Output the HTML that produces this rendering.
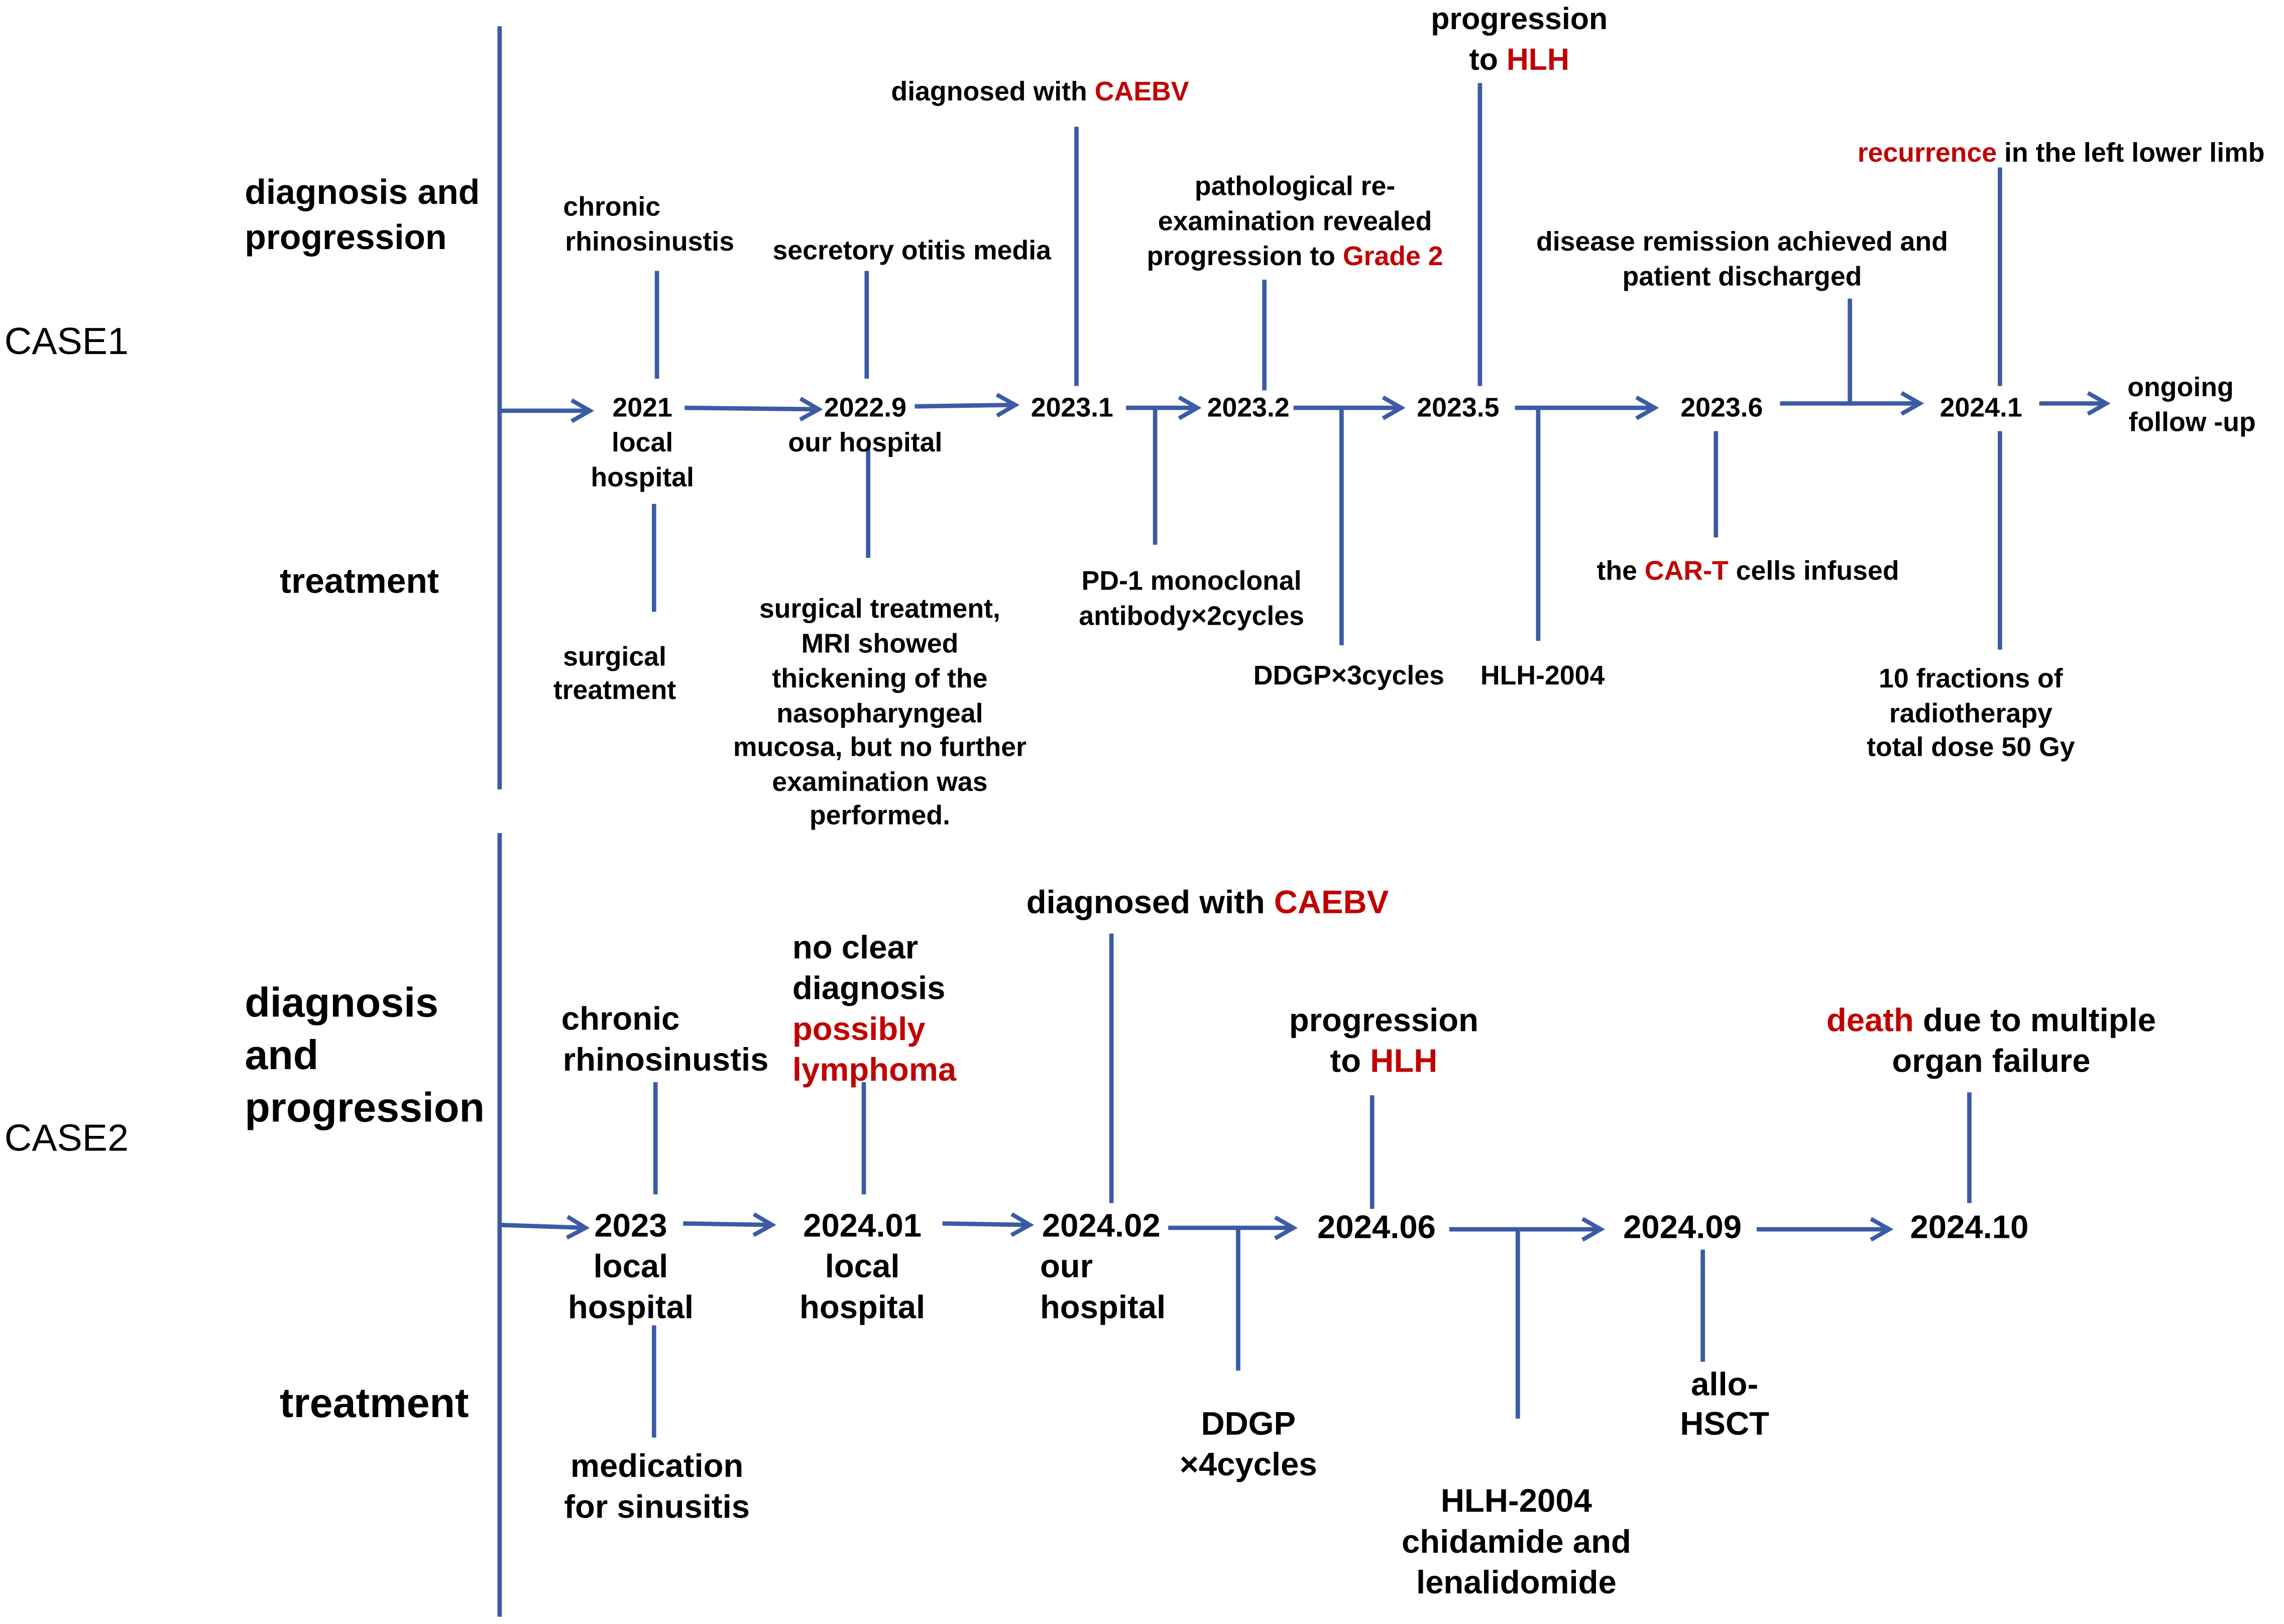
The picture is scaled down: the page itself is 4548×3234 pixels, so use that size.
<!DOCTYPE html>
<html><head><meta charset="utf-8"><style>
html,body{margin:0;padding:0;background:#fff}
svg{display:block}
text{font-family:"Liberation Sans",Arial,sans-serif;font-weight:bold;fill:#000}
.r{fill:#c00000}
.c1{font-size:18.5px;text-anchor:middle}
.c2{font-size:22.5px;text-anchor:middle}
.l{stroke:#3b5ba5;stroke-width:3;fill:none}
</style></head><body>
<svg width="4548" height="3234" viewBox="0 0 1568 1115" xmlns="http://www.w3.org/2000/svg">
<defs><marker id="a" viewBox="0 0 10 10" refX="8" refY="5" markerWidth="6" markerHeight="6" orient="auto" markerUnits="strokeWidth"><path d="M1,1 L8,5 L1,9" fill="none" stroke="#3b5ba5" stroke-width="1.6"/></marker></defs>
<g class="l">
<path d="M343 18V542M343 572V1110"/>
<path marker-end="url(#a)" d="M343 282L405 282"/>
<path marker-end="url(#a)" d="M470 280L562 281"/>
<path marker-end="url(#a)" d="M628 279L697 278"/>
<path marker-end="url(#a)" d="M773 280L822 280"/>
<path marker-end="url(#a)" d="M888 280L962 280"/>
<path marker-end="url(#a)" d="M1040 280L1136 280"/>
<path marker-end="url(#a)" d="M1222 277L1318 277"/>
<path marker-end="url(#a)" d="M1400 277L1446 277"/>
<path d="M451 186V260M595 186V260M739 87V265M868 192V268M1016 57V265M1270 205V277M1373 115V265"/>
<path d="M449 346V420M596 308V383M793 280V374M921 280V443M1056 280V440M1178 296V369M1373 296V446"/>
<path marker-end="url(#a)" d="M343 841L402 843"/>
<path marker-end="url(#a)" d="M469 840L530 841"/>
<path marker-end="url(#a)" d="M647 840L707 841"/>
<path marker-end="url(#a)" d="M802 843L888 843"/>
<path marker-end="url(#a)" d="M995 844L1099 844"/>
<path marker-end="url(#a)" d="M1206 844L1297 844"/>
<path d="M450 743V820M593 743V820M763 641V826M942 752V830M1352 750V826"/>
<path d="M449 910V987M850 843V941M1042 844V974M1169 858V935"/>
</g>
<text x="3" y="243" style="font-weight:normal;font-size:26px">CASE1</text>
<text x="3" y="790" style="font-weight:normal;font-size:26px">CASE2</text>
<text x="168" y="140" style="font-size:24px">diagnosis and</text>
<text x="168" y="171" style="font-size:24px">progression</text>
<text x="192" y="407" style="font-size:24px">treatment</text>
<text x="168" y="698" style="font-size:28.5px">diagnosis</text>
<text x="168" y="734" style="font-size:28.5px">and</text>
<text x="168" y="770" style="font-size:28.5px">progression</text>
<text x="192" y="973" style="font-size:28.5px">treatment</text>
<g class="c1">
<text x="441" y="286">2021</text><text x="441" y="310">local</text><text x="441" y="334">hospital</text>
<text x="594" y="286">2022.9</text><text x="594" y="310">our hospital</text>
<text x="736" y="286">2023.1</text><text x="857" y="286">2023.2</text><text x="1001" y="286">2023.5</text>
<text x="1182" y="286">2023.6</text><text x="1360" y="286">2024.1</text>
<text x="1497" y="272">ongoing</text><text x="1505" y="296">follow -up</text>
<text x="420" y="148">chronic</text><text x="446" y="172">rhinosinustis</text>
<text x="626" y="178">secretory otitis media</text>
<text x="714" y="69">diagnosed with <tspan class="r">CAEBV</tspan></text>
<text x="889" y="134">pathological re-</text><text x="889" y="158">examination revealed</text>
<text x="889" y="182">progression to <tspan class="r">Grade 2</tspan></text>
<text x="1043" y="20" style="font-size:21px">progression</text>
<text x="1043" y="48" style="font-size:21px">to <tspan class="r">HLH</tspan></text>
<text x="1196" y="172">disease remission achieved and</text><text x="1196" y="196">patient discharged</text>
<text x="1415" y="111"><tspan class="r">recurrence</tspan> in the left lower limb</text>
<text x="422" y="457">surgical</text><text x="422" y="480">treatment</text>
<text x="604" y="424">surgical treatment,</text><text x="604" y="448">MRI showed</text>
<text x="604" y="472">thickening of the</text><text x="604" y="496">nasopharyngeal</text>
<text x="604" y="519">mucosa, but no further</text><text x="604" y="543">examination was</text>
<text x="604" y="566">performed.</text>
<text x="818" y="405">PD-1 monoclonal</text><text x="818" y="429">antibody×2cycles</text>
<text x="926" y="470">DDGP×3cycles</text><text x="1059" y="470">HLH-2004</text>
<text x="1200" y="398">the <tspan class="r">CAR-T</tspan> cells infused</text>
<text x="1353" y="472">10 fractions of</text><text x="1353" y="496">radiotherapy</text><text x="1353" y="519">total dose 50 Gy</text>
</g>
<g class="c2">
<text x="433" y="849">2023</text><text x="433" y="877">local</text><text x="433" y="905">hospital</text>
<text x="592" y="849">2024.01</text><text x="592" y="877">local</text><text x="592" y="905">hospital</text>
<text x="756" y="849">2024.02</text><text x="714" y="877" style="text-anchor:start">our</text><text x="714" y="905" style="text-anchor:start">hospital</text>
<text x="945" y="850">2024.06</text><text x="1155" y="850">2024.09</text><text x="1352" y="850">2024.10</text>
<text x="426" y="707">chronic</text><text x="457" y="735">rhinosinustis</text>
<text x="544" y="658" style="text-anchor:start">no clear</text><text x="544" y="686" style="text-anchor:start">diagnosis</text>
<text x="544" y="714" class="r" style="text-anchor:start">possibly</text><text x="544" y="742" class="r" style="text-anchor:start">lymphoma</text>
<text x="829" y="627">diagnosed with <tspan class="r">CAEBV</tspan></text>
<text x="950" y="708">progression</text><text x="950" y="736">to <tspan class="r">HLH</tspan></text>
<text x="1367" y="708"><tspan class="r">death</tspan> due to multiple</text><text x="1367" y="736">organ failure</text>
<text x="451" y="1014">medication</text><text x="451" y="1042">for sinusitis</text>
<text x="857" y="985">DDGP</text><text x="857" y="1013">×4cycles</text>
<text x="1041" y="1038">HLH-2004</text><text x="1041" y="1066">chidamide and</text><text x="1041" y="1094">lenalidomide</text>
<text x="1184" y="958">allo-</text><text x="1184" y="985">HSCT</text>
</g>
</svg>
</body></html>
